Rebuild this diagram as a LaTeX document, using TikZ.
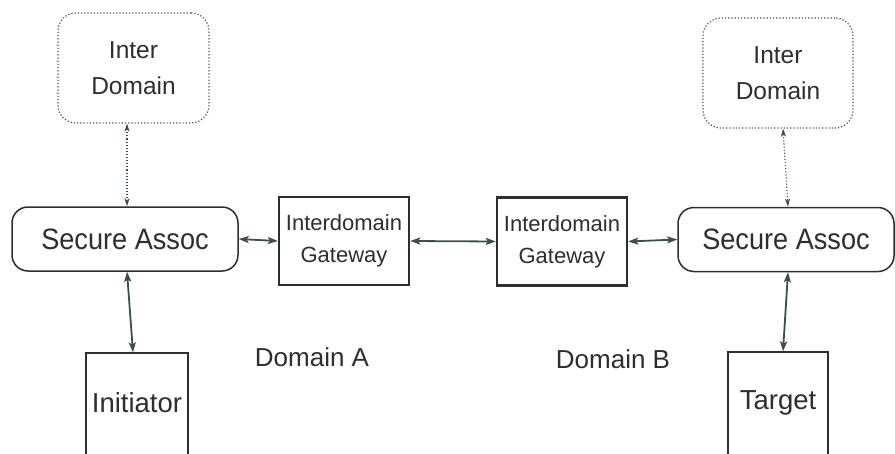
\documentclass[tikz,border=0pt]{standalone}
\usepackage{fontspec}
\setmainfont{Liberation Sans}
\newfontfamily\narrowsans[FakeStretch=0.92]{Liberation Sans}
\usetikzlibrary{arrows.meta}
\definecolor{ink}{HTML}{2E2E2E}
\definecolor{linkcol}{HTML}{3A504C}

\begin{document}
\begin{tikzpicture}[x=1pt,y=-1pt,
  dotbox/.style={draw=ink!85, dotted, line width=1.2pt, rounded corners=18pt,
    minimum width=151pt, minimum height=110pt, align=center, inner sep=0pt,
    font=\fontsize{24.5}{36}\selectfont, text=ink},
  assocbox/.style={draw=ink, line width=1.5pt, rounded corners=16pt,
    minimum height=64pt, inner sep=0pt, font=\narrowsans\fontsize{29.5}{34}\selectfont, text=ink},
  gatebox/.style={draw=ink, line width=2.4pt, minimum width=130pt, minimum height=88pt,
    align=center, inner sep=0pt, font=\fontsize{22}{32}\selectfont, text=ink},
  endbox/.style={draw=ink, line width=1.2pt, inner sep=0pt},
  endlabel/.style={anchor=base, inner sep=0pt, font=\fontsize{27.5}{30}\selectfont, text=ink},
  domlabel/.style={anchor=base, inner sep=0pt, font=\fontsize{26}{30}\selectfont, text=ink},
  link/.style={draw=linkcol, line width=1.8pt,
    {Stealth[length=10pt,width=7pt,inset=2pt]}-{Stealth[length=10pt,width=7pt,inset=2pt]}},
  dotlink/.style={draw=linkcol, dotted, line width=1.1pt,
    {Stealth[length=8pt,width=5pt,inset=2pt]}-{Stealth[length=8pt,width=5pt,inset=2pt]}}
]
\useasboundingbox (0,0) rectangle (895,453);
\fill[white] (0,0) rectangle (895,453);
\clip (0,0) rectangle (895,453);

% inter-domain services
\node[dotbox] (idL) at (133.5,68) {Inter\\Domain};
\node[dotbox, minimum width=150pt] (idR) at (778,73) {Inter\\Domain};

% security association managers
\node[assocbox, minimum width=226pt] (saL) at (125,239) {Secure Assoc};
\node[assocbox, minimum width=216pt] (saR) at (786,239.5) {Secure Assoc};

% gateways between the domains
\node[gatebox] (gwL) at (344,241) {Interdomain\\Gateway};
\node[gatebox] (gwR) at (562,241.5) {Interdomain\\Gateway};

% end systems (run off the bottom edge)
\node[endbox, minimum width=102pt, minimum height=117pt] (init) at (137,411.5) {};
\node[endbox, minimum width=100pt, minimum height=118pt] (targ) at (778,411) {};
\node[endlabel] (initT) at (137,412) {Initiator};
\node[endlabel] (targT) at (778,409) {Target};

% domain captions
\node[domlabel] (domA) at (312,366) {Domain A};
\node[domlabel] (domB) at (613,368) {Domain B};

% connections
\draw[dotlink] ([xshift=-6.5pt]idL.south) -- ([xshift=2pt]saL.north);
\draw[dotlink] ([xshift=5pt]idR.south) -- ([xshift=2pt]saR.north);
\draw[link] (saL.east) -- (gwL.west);
\draw[link] (gwL.east) -- (gwR.west);
\draw[link] (gwR.east) -- (saR.west);
\draw[link] ([xshift=2pt]saL.south) -- ([xshift=-4pt]init.north);
\draw[link] ([xshift=2pt]saR.south) -- ([xshift=5pt]targ.north);
\end{tikzpicture}
\end{document}
